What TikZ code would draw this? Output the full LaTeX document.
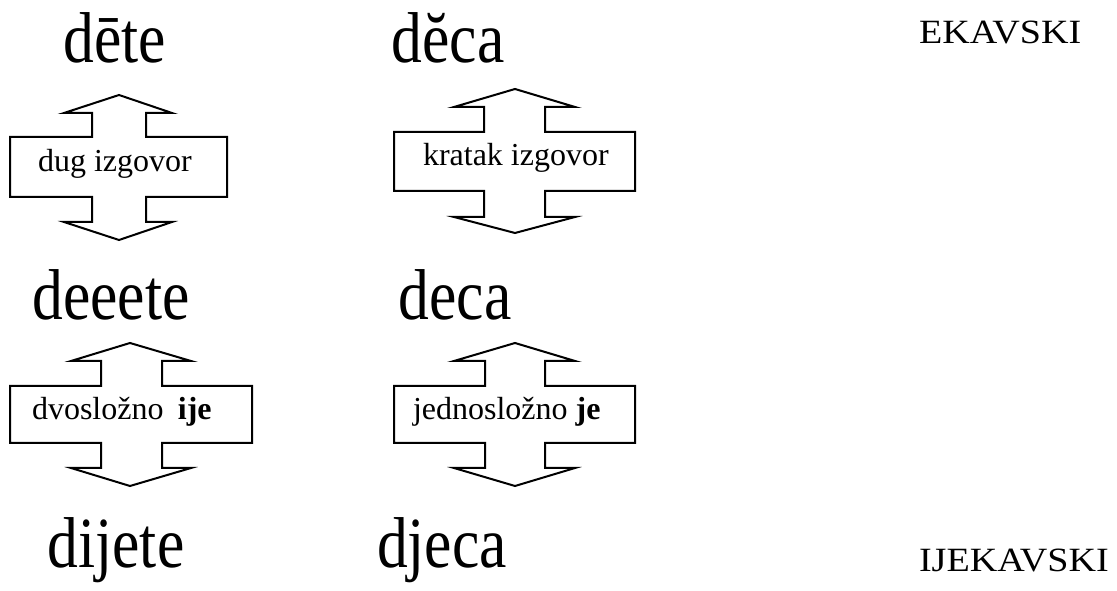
\documentclass[tikz,border=0pt]{standalone}
\usepackage{fontspec}
\setmainfont{Liberation Serif}
\begin{document}
\begin{tikzpicture}[x=1pt,y=1pt]
\definecolor{fillColor}{RGB}{255,255,255}
\definecolor{drawColor}{RGB}{0,0,0}
\path[use as bounding box,fill=fillColor] (0,0) rectangle (1117,591);
\tikzset{
  word/.style={text=drawColor,anchor=base,inner sep=0pt,outer sep=0pt,
    xscale=0.855,font=\fontsize{72}{80}\selectfont},
  rule/.style={text=drawColor,anchor=base west,inner sep=0pt,outer sep=0pt,
    font=\fontsize{32}{38}\selectfont},
  dialect/.style={text=drawColor,anchor=base west,inner sep=0pt,outer sep=0pt,
    xscale=1.12,font=\fontsize{34}{40}\selectfont},
  crossarrow/.style={draw=drawColor,line width=2pt,line join=miter,fill=fillColor}
}

% words
\node[word] (dete) at (115,528) {dēte};
\node[word] (deca) at (448,528) {dĕca};
\node[word] (deeete) at (111,271) {deeete};
\node[word] (decakr) at (455,271) {deca};
\node[word] (dijete) at (116,23) {dijete};
\node[word] (djeca) at (442,23) {djeca};

% upper arrows
\path[crossarrow] (119,496) -- (172,478) -- (146,478) -- (146,454) -- (227,454) --
	(227,394) -- (146,394) -- (146,369) -- (172,369) -- (119,351) -- (64,369) --
	(92,369) -- (92,394) -- (10,394) -- (10,454) -- (92,454) -- (92,478) --
	(64,478) -- cycle;

\path[crossarrow] (515,502) -- (575,484) -- (545,484) -- (545,459) -- (635,459) --
	(635,400) -- (545,400) -- (545,374) -- (575,374) -- (515,358) -- (454,374) --
	(484,374) -- (484,400) -- (394,400) -- (394,459) -- (484,459) -- (484,484) --
	(454,484) -- cycle;

% lower arrows
\path[crossarrow] (130,248) -- (191,230) -- (162,230) -- (162,205) -- (252,205) --
	(252,148) -- (162,148) -- (162,123) -- (191,123) -- (130,105) -- (71,123) --
	(101,123) -- (101,148) -- (10,148) -- (10,205) -- (101,205) -- (101,230) --
	(71,230) -- cycle;

\path[crossarrow] (515,248) -- (575,230) -- (545,230) -- (545,205) -- (635,205) --
	(635,148) -- (545,148) -- (545,123) -- (575,123) -- (515,105) -- (454,123) --
	(485,123) -- (485,148) -- (394,148) -- (394,205) -- (485,205) -- (485,230) --
	(454,230) -- cycle;

% labels in the arrows
\node[rule] (dug) at (38,419) {dug izgovor};
\node[rule] (kratak) at (423,425) {kratak izgovor};
\node[rule] (dvoslozno) at (32,171) {dvosložno\hspace{0.45em}\textbf{ije}};
\node[rule] (jednoslozno) at (413,171) {jednosložno \textbf{je}};

% dialects
\node[dialect] (ekavski) at (919,547) {EKAVSKI};
\node[dialect] (ijekavski) at (919,19) {IJEKAVSKI};
\end{tikzpicture}
\end{document}
